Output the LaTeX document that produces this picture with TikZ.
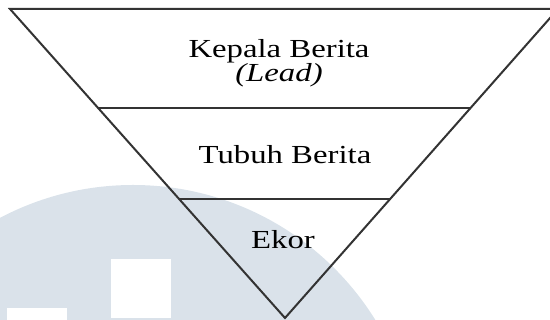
\documentclass[tikz,border=0pt]{standalone}
\usepackage{fontspec}
\setmainfont{Liberation Serif}
\usetikzlibrary{calc}
\definecolor{wmblue}{RGB}{218,226,234}
\newcommand{\wide}[1]{\scalebox{1.26}[1]{#1}}

\begin{document}
\begin{tikzpicture}[x=1pt,y=1pt,
	edge/.style={line width=2pt,black!80},
	lbl/.style={anchor=base,inner sep=0pt,align=center,font=\fontsize{26}{22}\selectfont}]
				\useasboundingbox (0,0) rectangle (550,320);
				\begin{scope}
				\clip (0,0) rectangle (550,320);
				\fill[wmblue] (133,-150) circle (285);
				\fill[white] (111,2) rectangle (171,61);
				\fill[white] (7,-10) rectangle (67,12);
				\coordinate (apex) at (285,2);
				\coordinate (tl) at (10,311);
				\coordinate (tr) at (558,311);
				\draw[edge] (tl) -- (tr) -- (apex) -- cycle;
				\draw[edge] ($(apex)!0.680!(tl)$) coordinate (a1) -- ($(apex)!0.680!(tr)$) coordinate (a2);
				\draw[edge] ($(apex)!0.385!(tl)$) coordinate (b1) -- ($(apex)!0.385!(tr)$) coordinate (b2);
				\end{scope}
				\node[lbl] (kepala) at (279,238) {\wide{Kepala Berita}\\\wide{\itshape (Lead)}};
				\node[lbl] (tubuh) at (285,156) {\wide{Tubuh Berita}};
				\node[lbl] (ekor) at (283,71) {\wide{Ekor}};
\end{tikzpicture}
\end{document}
